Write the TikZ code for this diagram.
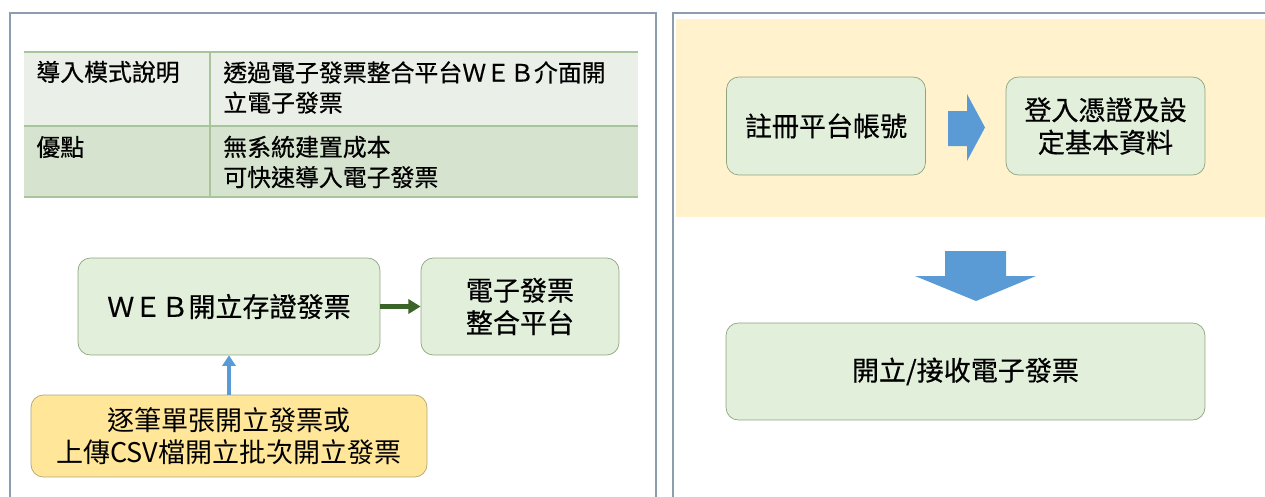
\documentclass[tikz,border=0pt]{standalone}
\usepackage{fontspec}
\usepackage{tikz}
\usetikzlibrary{arrows.meta}
\newfontfamily\cjk{Noto Sans CJK TC}
\newfontfamily\cjkb[FakeBold=0.5]{Noto Sans CJK TC}
\definecolor{frameline}{HTML}{8C9DB0}
\definecolor{rowa}{HTML}{EAEFE7}
\definecolor{rowb}{HTML}{D6E3CE}
\definecolor{tabline}{HTML}{A8C49A}
\definecolor{boxfill}{HTML}{E2EFDA}
\definecolor{boxline}{HTML}{8FA37F}
\definecolor{csvfill}{HTML}{FFE699}
\definecolor{csvline}{HTML}{B3A46E}
\definecolor{bandfill}{HTML}{FFF2CC}
\definecolor{arrowblue}{HTML}{5B9BD5}
\definecolor{arrowgreen}{HTML}{3B6428}
\tikzset{
  tabtext/.style={font=\cjkb\fontsize{13.6}{17.2}\selectfont,inner sep=0pt,anchor=west,align=left},
  box/.style={draw=boxline,fill=boxfill,rounded corners=7pt,minimum height=1.94cm,
    font=\cjkb\fontsize{15.4}{18.5}\selectfont,align=center},
  csvbox/.style={box,draw=csvline,fill=csvfill,minimum height=1.64cm,
    font=\cjk\fontsize{15.4}{18.5}\selectfont}
}

\begin{document}
\begin{tikzpicture}[x=0.02cm,y=-0.02cm]
    \useasboundingbox (0,0) rectangle (1265,497);
    %外框
    \draw [frameline,line width=0.8pt] (10,497) -- (10,13) -- (656,13) -- (656,497);
    \draw [frameline,line width=0.8pt] (673,497) -- (673,13) -- (1265,13);
    \fill [bandfill] (676,19) rectangle (1265,217);
    %表格
    \fill [rowa] (24,52) rectangle (638,126);
    \fill [rowb] (24,126) rectangle (638,197);
    \draw [tabline,line width=0.7pt] (24,52) -- (638,52) (24,126) -- (638,126) (24,197) -- (638,197)
        (210,52) -- (210,197);
    \node [tabtext] (mode) at (36,72) {導入模式說明};
    \node [tabtext] (modetxt) at (223,87.5) {透過電子發票整合平台ＷＥＢ介面開\\立電子發票};
    \node [tabtext] (pros) at (36,147) {優點};
    \node [tabtext] (prostxt) at (223,162) {無系統建置成本\\可快速導入電子發票};
    %左側流程
    \node [box,minimum width=6.04cm] (web) at (229,306.5) {ＷＥＢ開立存證發票};
    \node [box,minimum width=3.96cm] (plat) at (520,306.5) {電子發票\\整合平台};
    \node [csvbox,minimum width=7.92cm] (csv) at (229,436) {逐筆單張開立發票或\\上傳CSV檔開立批次開立發票};
    \draw [arrowgreen,line width=2.3pt][-{Triangle[length=7pt,width=8pt]}] (web) -- (plat);
    \draw [arrowblue,line width=2pt][-{Triangle[length=6pt,width=7.5pt]}] (csv) -- (web);
    %右側流程
    \node [box,minimum width=3.98cm,minimum height=1.96cm] (reg) at (826,126) {註冊平台帳號};
    \node [box,minimum width=3.98cm,minimum height=1.96cm] (login) at (1105.5,126) {登入憑證及設\\定基本資料};
    \node [box,minimum width=9.58cm] (issue) at (965.5,371.5) {開立/接收電子發票};
    \fill [arrowblue] (948,111) -- (967,111) -- (967,94) -- (985,127.5) -- (967,161) -- (967,146)
        -- (948,146) -- cycle;
    \fill [arrowblue] (945,251) -- (1006,251) -- (1006,276) -- (1036,276) -- (976,301) -- (915,276)
        -- (945,276) -- cycle;
\end{tikzpicture}
\end{document}
